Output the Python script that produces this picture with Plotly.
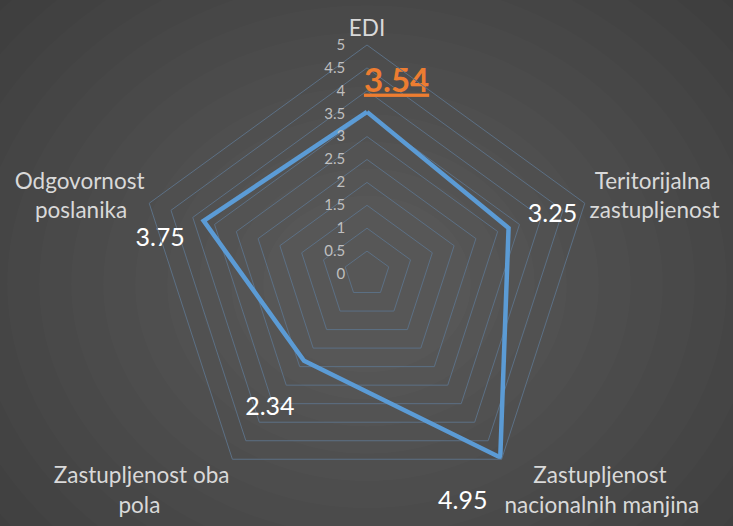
import plotly.graph_objects as go

NB = "\u00a0"
categories = ["EDI",
              NB + "Teritorijalna<br>zastupljenost",
              NB * 5 + "Zastupljenost<br>nacionalnih manjina",
              "Zastupljenost oba<br>pola" + NB * 12,
              "Odgovornost<br>poslanika" + NB * 3]
values = [3.54, 3.25, 4.95, 2.34, 3.75]
value_strings = ["3.54", "3.25", "4.95", "2.34", "3.75"]

value_labels = [
    NB * 7 + "<b><u>" + value_strings[0] + "</u></b>",
    NB * 3 + value_strings[1],
    NB + "<br>" + value_strings[2] + NB * 2,
    NB + "<br>" + value_strings[3] + NB,
    value_strings[4] + NB * 2,
]
label_colors = ["#ed7d31", "#ffffff", "#ffffff", "#ffffff", "#ffffff"]
label_sizes = [33, 25, 25, 25, 25]
label_positions = ["top center", "top right", "bottom left", "bottom left", "bottom left"]
label_offsets = [17.6, 0, 0, 3.2, 8]   # invisible marker sizes used only to offset text
radial_ticks = [0, 0.5, 1, 1.5, 2, 2.5, 3, 3.5, 4, 4.5, 5]

W, H = 733, 526
cx, cy, R = 367, 274, 229

fig = go.Figure()
fig.add_trace(go.Scatterpolar(
    r=values + values[:1],
    theta=categories + categories[:1],
    mode="lines+markers+text",
    line=dict(color="#5b9bd5", width=4.5),
    marker=dict(size=label_offsets + [0], color="rgba(0,0,0,0)", line=dict(width=0)),
    text=value_labels + [""],
    textposition=label_positions + ["top center"],
    textfont=dict(family="Lato", color=label_colors + ["#fff"], size=label_sizes + [1]),
    hoverinfo="skip",
    cliponaxis=False,
))

# radial-ish background glow
shapes = []
n = 14
for i in range(n):
    rr = 520 - i * 32
    shapes.append(dict(
        type="circle", xref="paper", yref="paper", layer="below",
        x0=(cx - rr) / W, x1=(cx + rr) / W,
        y0=1 - (cy + 10 + rr * 0.85) / H, y1=1 - (cy + 10 - rr * 0.85) / H,
        fillcolor="rgba(255,255,255,0.011)", line=dict(width=0),
    ))

fig.update_layout(
    width=W, height=H,
    margin=dict(l=0, r=0, t=0, b=0),
    paper_bgcolor="#3b3b3b",
    plot_bgcolor="rgba(0,0,0,0)",
    showlegend=False,
    shapes=shapes,
    polar=dict(
        domain=dict(x=[(cx - 267) / W, (cx + 267) / W], y=[1 - (cy + R) / H, 1 - (cy - R) / H]),
        bgcolor="rgba(0,0,0,0)",
        gridshape="linear",
        radialaxis=dict(
            range=[0, 5], tickvals=radial_ticks, ticktext=[f"{t:g}" for t in radial_ticks],
            angle=90, tickangle=90, side="counterclockwise",
            showline=False, ticks="outside", ticklen=16, tickcolor="rgba(0,0,0,0)",
            gridcolor="#5c7085", gridwidth=1,
            tickfont=dict(family="Lato", size=15, color="#bfbfbf"),
        ),
        angularaxis=dict(
            direction="clockwise", rotation=90,
            showline=True, linecolor="#5c7085", linewidth=1,
            gridcolor="rgba(0,0,0,0)", ticks="",
            tickfont=dict(family="Lato", size=22.5, color="#d9d9d9"),
        ),
    ),
)

fig.write_html("out.html", config={"displayModeBar": False},
               post_script="document.body.style.margin='0';document.body.style.overflow='hidden';")
